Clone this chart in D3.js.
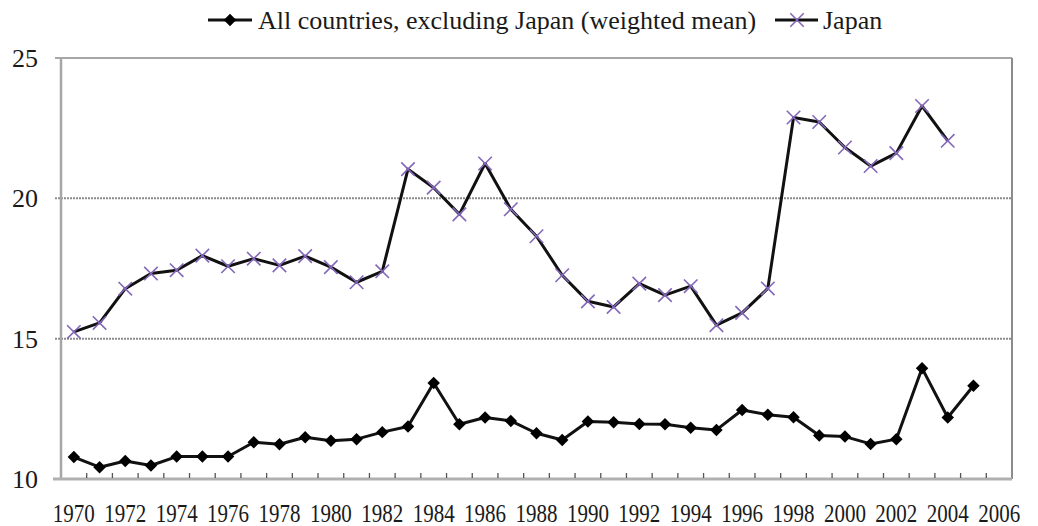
<!DOCTYPE html>
<html>
<head>
  <meta charset="utf-8">
  <script src="https://cdn.jsdelivr.net/npm/d3@7"></script>
  <style>
    body { margin: 0; background: #fff; }
    svg text { font-family: "Liberation Serif", Tinos, "Times New Roman", Times, "DejaVu Serif", "Noto Serif", serif; }
  </style>
</head>
<body>
<script>
  // categories on the x axis (one band per year)
  var years = d3.range(1970, 2007);
  var tickLabels = d3.range(1970, 2007, 2);
  var yTicks = [10, 15, 20, 25];

  var allCountries = [10.78, 10.42, 10.64, 10.48, 10.80, 10.80, 10.80, 11.31, 11.24, 11.49,
                      11.36, 11.42, 11.67, 11.87, 13.42, 11.95, 12.19, 12.07, 11.63, 11.39,
                      12.05, 12.02, 11.96, 11.95, 11.83, 11.75, 12.46, 12.29, 12.20, 11.55,
                      11.51, 11.25, 11.42, 13.95, 12.19, 13.32];   // 1970-2005

  var japan = [15.24, 15.56, 16.78, 17.32, 17.44, 17.96, 17.58, 17.85, 17.61, 17.94,
               17.55, 17.01, 17.40, 21.04, 20.38, 19.43, 21.24, 19.61, 18.65, 17.26,
               16.33, 16.13, 16.96, 16.55, 16.87, 15.48, 15.92, 16.79, 22.88, 22.72,
               21.81, 21.15, 21.61, 23.29, 22.05];   // 1970-2004

  var seriesNames = ["All countries, excluding Japan (weighted mean)", "Japan"];

  (function draw() {
    "use strict";
    var width = 1038, height = 526;
    var pl = 61, pr = 1012, pt = 58, pb = 479;

    var svg = d3.select("body").append("svg")
        .attr("width", width)
        .attr("height", height);

    var x = d3.scaleBand().domain(years).range([pl, pr]).padding(0);
    var y = d3.scaleLinear().domain([10, 25]).range([pb, pt]);
    var cx = function (yr) { return x(yr) + x.bandwidth() / 2; };

    // gridlines
    svg.selectAll(".grid")
      .data([15, 20])
      .enter().append("line")
        .attr("x1", pl - 6).attr("x2", pr)
        .attr("y1", y).attr("y2", y)
        .attr("stroke", "#8c8c8c")
        .attr("stroke-width", 2)
        .attr("stroke-dasharray", "2,1");

    // frame
    svg.append("line").attr("x1", pl - 6).attr("x2", pr).attr("y1", pt).attr("y2", pt)
      .attr("stroke", "#a6a6a6").attr("stroke-width", 2);
    svg.append("line").attr("x1", pr).attr("x2", pr).attr("y1", pt).attr("y2", pb)
      .attr("stroke", "#8c8c8c").attr("stroke-width", 2);
    svg.append("line").attr("x1", pl).attr("x2", pl).attr("y1", pt).attr("y2", pb)
      .attr("stroke", "#a6a6a6").attr("stroke-width", 2.5);
    svg.append("line").attr("x1", pl - 8).attr("x2", pr).attr("y1", pb).attr("y2", pb)
      .attr("stroke", "#b0b0b0").attr("stroke-width", 3);

    // x minor ticks at band edges, pointing inward
    svg.selectAll(".xtick")
      .data(years.slice(1))
      .enter().append("line")
        .attr("x1", function (d) { return x(d); })
        .attr("x2", function (d) { return x(d); })
        .attr("y1", pb - 1).attr("y2", pb - 6)
        .attr("stroke", "#555").attr("stroke-width", 1.3);

    // y labels
    svg.selectAll(".ylab")
      .data(yTicks)
      .enter().append("text")
        .attr("x", 38)
        .attr("y", function (d) { return y(d) + 9; })
        .attr("text-anchor", "end")
        .attr("fill", "#1a1a1a")
        .attr("font-size", 26)
        .text(function (d) { return d; });

    // x labels, a little stretched vertically as in the source image
    svg.selectAll(".xlab")
      .data(tickLabels)
      .enter().append("text")
        .attr("transform", function (d) { return "translate(" + cx(d) + ",522) scale(1,1.2)"; })
        .attr("text-anchor", "middle")
        .attr("fill", "#1a1a1a")
        .attr("font-size", 21)
        .text(function (d) { return d; });

    var line = d3.line()
        .x(function (d, i) { return cx(years[i]); })
        .y(function (d) { return y(d); });

    svg.append("path").datum(japan)
      .attr("d", line).attr("fill", "none")
      .attr("stroke", "#111").attr("stroke-width", 3).attr("stroke-linejoin", "round");
    svg.append("path").datum(allCountries)
      .attr("d", line).attr("fill", "none")
      .attr("stroke", "#111").attr("stroke-width", 3).attr("stroke-linejoin", "round");

    var diamond = d3.symbol().type(d3.symbolSquare).size(78);
    var cross = d3.symbol().type(d3.symbolX).size(120);

    svg.selectAll(".dia")
      .data(allCountries)
      .enter().append("path")
        .attr("d", diamond)
        .attr("transform", function (d, i) { return "translate(" + cx(years[i]) + "," + y(d) + ") rotate(45)"; })
        .attr("fill", "#000");

    svg.selectAll(".jx")
      .data(japan)
      .enter().append("path")
        .attr("d", cross)
        .attr("transform", function (d, i) { return "translate(" + cx(years[i]) + "," + y(d) + ")"; })
        .attr("fill", "none")
        .attr("stroke", "#8467b8").attr("stroke-width", 1.6);

    // legend
    var lg = svg.append("g");
    lg.append("line").attr("x1", 208).attr("x2", 252).attr("y1", 20).attr("y2", 20)
      .attr("stroke", "#111").attr("stroke-width", 3);
    lg.append("path").attr("d", diamond).attr("transform", "translate(230,20) rotate(45)").attr("fill", "#000");
    lg.append("text").attr("x", 258).attr("y", 29).attr("font-size", 26).attr("fill", "#1a1a1a")
      .text(seriesNames[0]);

    lg.append("line").attr("x1", 775).attr("x2", 818).attr("y1", 20).attr("y2", 20)
      .attr("stroke", "#111").attr("stroke-width", 3);
    lg.append("path").attr("d", cross).attr("transform", "translate(797,20)")
      .attr("fill", "none").attr("stroke", "#8467b8").attr("stroke-width", 1.6);
    lg.append("text").attr("x", 823).attr("y", 29).attr("font-size", 26).attr("fill", "#1a1a1a")
      .text(seriesNames[1]);
  })();
</script>
</body>
</html>
